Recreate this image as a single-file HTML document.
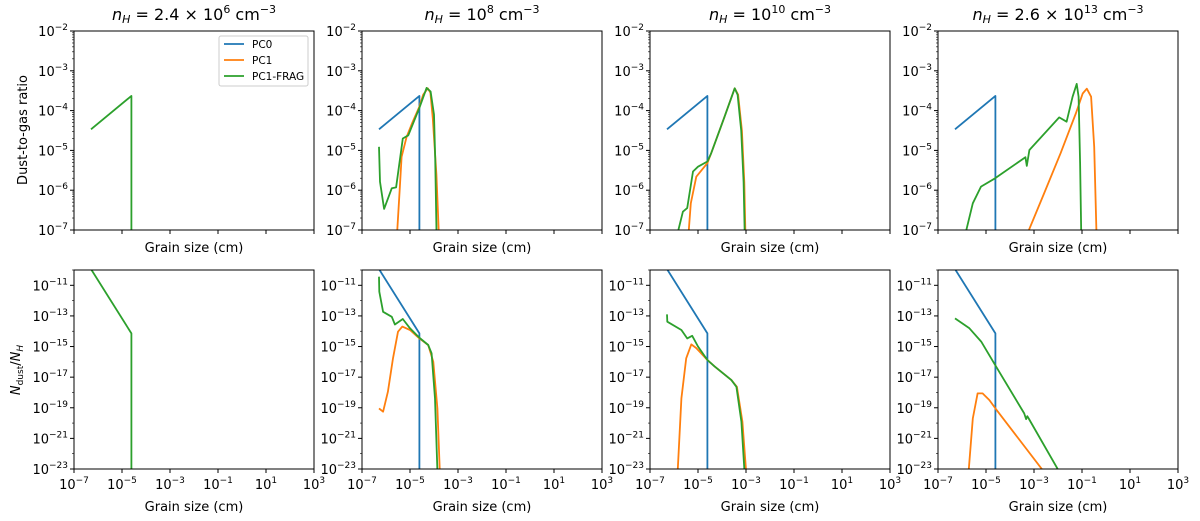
<!DOCTYPE html>
<html><head><meta charset="utf-8"><style>
body{margin:0;background:#fff;}
svg{display:block;font-family:"DejaVu Sans","Liberation Sans",sans-serif;}
</style></head><body>
<svg id="fig" width="1200" height="521" viewBox="0 0 1200 521" xmlns="http://www.w3.org/2000/svg"></svg>
<script>
const panelTitles = [["2.4 × 10","6"],["10","8"],["10","10"],["2.6 × 10","13"]];
const xTicks = [-7,-5,-3,-1,1,3];
const topTicks = [-2,-3,-4,-5,-6,-7];
const botTicks = [-11,-13,-15,-17,-19,-21,-23];
const pc0Top = [[-6.29,-4.47],[-4.61,-3.63],[-4.61,-8]];
const pc0Bot = [[-6.29,-9.94],[-4.61,-14.14],[-4.61,-24]];
// panel 2
const p2TopOr = [[-5.55,-7.2],[-5.42,-5.9],[-5.35,-5.16],[-5.14,-4.66],[-4.9,-4.3],[-4.61,-3.9],[-4.45,-3.6],[-4.26,-3.44],[-4.15,-3.55],[-4.05,-4.2],[-3.9,-5.6],[-3.79,-7.2]];
const p2TopGr = [[-6.29,-4.91],[-6.25,-5.79],[-6.08,-6.47],[-5.76,-5.95],[-5.58,-5.93],[-5.3,-4.7],[-5.07,-4.62],[-4.61,-3.93],[-4.31,-3.43],[-4.14,-3.52],[-4.0,-4.1],[-3.95,-5.2],[-3.89,-7.2]];
const p2BotGr = [[-6.29,-10.44],[-6.28,-11.42],[-6.12,-12.73],[-5.76,-13.06],[-5.63,-13.56],[-5.3,-13.2],[-5.0,-13.81],[-4.61,-14.42],[-4.24,-14.9],[-4.1,-15.45],[-3.96,-18.4],[-3.85,-23.5]];
const p2BotOr = [[-6.29,-19.04],[-6.12,-19.26],[-5.92,-17.95],[-5.71,-15.77],[-5.5,-14.03],[-5.32,-13.7],[-5.0,-13.92],[-4.61,-14.47],[-4.24,-14.9],[-4.03,-16.0],[-3.86,-19.04],[-3.75,-23.5]];
// panel 3
const p3TopGr = [[-5.9,-7.2],[-5.63,-6.54],[-5.45,-6.45],[-5.21,-5.53],[-5.0,-5.41],[-4.61,-5.28],[-4.45,-5.07],[-3.89,-4.15],[-3.47,-3.44],[-3.35,-3.6],[-3.2,-4.5],[-3.1,-5.8],[-3.05,-7.2]];
const p3TopOr = [[-5.41,-7.2],[-5.3,-6.33],[-5.07,-5.66],[-4.61,-5.32],[-4.45,-5.07],[-3.89,-4.15],[-3.47,-3.44],[-3.33,-3.6],[-3.17,-4.5],[-3.07,-5.8],[-3.02,-7.2]];
const p3BotGr = [[-6.29,-12.9],[-6.28,-13.38],[-5.69,-13.92],[-5.45,-14.47],[-5.24,-14.3],[-5.0,-15.0],[-4.61,-15.88],[-4.31,-16.3],[-3.61,-17.19],[-3.4,-17.63],[-3.19,-19.91],[-3.05,-23.5]];
const p3BotOr = [[-5.86,-23.5],[-5.69,-18.39],[-5.49,-15.77],[-5.28,-14.86],[-5.07,-15.1],[-4.61,-15.88],[-4.31,-16.3],[-3.61,-17.19],[-3.38,-17.63],[-3.15,-19.91],[-2.98,-23.5]];
// panel 4
const p4TopGr = [[-5.9,-7.2],[-5.55,-6.33],[-5.21,-5.91],[-4.62,-5.7],[-3.36,-5.17],[-3.3,-5.39],[-3.19,-4.99],[-1.95,-4.17],[-1.64,-4.28],[-1.39,-3.65],[-1.22,-3.33],[-1.14,-3.65],[-1.08,-5.32],[-1.03,-7.2]];
const p4TopOr = [[-3.35,-7.2],[-2.58,-6.08],[-1.89,-5.07],[-1.25,-4.06],[-0.97,-3.57],[-0.8,-3.45],[-0.62,-3.65],[-0.49,-4.91],[-0.39,-7.2]];
const p4BotGr = [[-6.29,-13.16],[-5.69,-13.81],[-5.2,-14.68],[-4.62,-16.2],[-3.41,-19.37],[-3.33,-19.74],[-3.28,-19.55],[-3.22,-19.7],[-1.83,-23.5]];
const p4BotOr = [[-5.74,-23.5],[-5.55,-19.7],[-5.35,-18.06],[-5.14,-18.06],[-4.86,-18.5],[-4.61,-19.04],[-2.43,-23.5]];
// panel 1
const p1TopGr = [[-6.29,-4.47],[-4.61,-3.63],[-4.61,-8]];
const p1BotGr = [[-6.29,-9.94],[-4.61,-14.14],[-4.61,-24]];

const BLUE="#1f77b4",ORANGE="#ff7f0e",GREEN="#2ca02c";
const lefts=[74,362,650,938], W=240;
const rows=[{top:31,bot:230,min:-7,max:-2},{top:270,bot:469,min:-23,max:-10}];
const svg=document.getElementById('fig');
const NS="http://www.w3.org/2000/svg";
function mk(tag,attrs,parent){const e=document.createElementNS(NS,tag);for(const k in attrs)e.setAttribute(k,attrs[k]);(parent||svg).appendChild(e);return e;}
function xs(l,v){return l+(v+7)/10*W;}
function ys(r,v){return r.bot-(v-r.min)/(r.max-r.min)*(r.bot-r.top);}

const series=[
 [[p1TopGr,GREEN,'pc1-frag-line']],[[pc0Top,BLUE,'pc0-line'],[p2TopOr,ORANGE,'pc1-line'],[p2TopGr,GREEN,'pc1-frag-line']],
 [[pc0Top,BLUE,'pc0-line'],[p3TopOr,ORANGE,'pc1-line'],[p3TopGr,GREEN,'pc1-frag-line']],
 [[pc0Top,BLUE,'pc0-line'],[p4TopOr,ORANGE,'pc1-line'],[p4TopGr,GREEN,'pc1-frag-line']]];
const seriesB=[
 [[p1BotGr,GREEN,'pc1-frag-line']],[[pc0Bot,BLUE,'pc0-line'],[p2BotOr,ORANGE,'pc1-line'],[p2BotGr,GREEN,'pc1-frag-line']],
 [[pc0Bot,BLUE,'pc0-line'],[p3BotOr,ORANGE,'pc1-line'],[p3BotGr,GREEN,'pc1-frag-line']],
 [[pc0Bot,BLUE,'pc0-line'],[p4BotOr,ORANGE,'pc1-line'],[p4BotGr,GREEN,'pc1-frag-line']]];

for(let p=0;p<4;p++){
 const L=lefts[p];
 const t=mk('text',{x:L+W/2,y:20,'text-anchor':'middle','font-size':'16'});
 
 
 t.innerHTML='<tspan font-style="italic">n</tspan><tspan font-style="italic" font-size="11" dy="3">H</tspan><tspan dy="-3"> = '+panelTitles[p][0]+'</tspan><tspan font-size="11" dy="-7">'+panelTitles[p][1]+'</tspan><tspan dy="7"> cm</tspan><tspan font-size="11" dy="-7">−3</tspan>';
 for(let r=0;r<2;r++){
  const R=rows[r];
  const g=mk('g',{});
  
  
  const cid='c'+p+r;
  const cp=mk('clipPath',{id:cid},g);mk('rect',{x:L,y:R.top,width:W,height:R.bot-R.top},cp);
  const data=(r==0?series:seriesB)[p];
  for(const [pts,col,nm] of data){
   const d=pts.map((q,i)=>(i?'L':'M')+xs(L,q[0]).toFixed(1)+','+ys(R,q[1]).toFixed(1)).join(' ');
   const path=mk('path',{d:d,fill:'none',stroke:col,'stroke-width':1.8,'stroke-linejoin':'round','clip-path':'url(#'+cid+')'},g);
   
   
  }
  mk('rect',{x:L,y:R.top,width:W,height:R.bot-R.top,fill:'none',stroke:'#000','stroke-width':1},g);
  for(const v of xTicks){const x=xs(L,v);mk('line',{x1:x,x2:x,y1:R.bot,y2:R.bot+4,stroke:'#000'},g);
   if(r==1){const tt=mk('text',{x:x,y:R.bot+20,'text-anchor':'middle','font-size':'13'},g);tt.innerHTML='10<tspan font-size="9" dy="-6">'+(v<0?'−'+(-v):v)+'</tspan>';
    
    }}
  const xl=mk('text',{x:L+W/2,y:R.bot+(r==0?22:42),'text-anchor':'middle','font-size':'13'},g);
  xl.textContent='Grain size (cm)';
  
  
  const ticks=r==0?topTicks:botTicks;
  for(const v of ticks){const y=ys(R,v);mk('line',{x1:L-4,x2:L,y1:y,y2:y,stroke:'#000'},g);
   const tt=mk('text',{x:L-6,y:y+5,'text-anchor':'end','font-size':'13'},g);tt.innerHTML='10<tspan font-size="9" dy="-6">−'+(-v)+'</tspan>';
   
   }
  if(r==0){for(let dcd=-7;dcd<-2;dcd++)for(let m=2;m<10;m++){const y=ys(R,dcd+Math.log10(m));mk('line',{x1:L-2,x2:L,y1:y,y2:y,stroke:'#000','stroke-width':0.6},g);}}
  else{for(let dcd=-22;dcd<=-10;dcd+=2){const y=ys(R,dcd);mk('line',{x1:L-2,x2:L,y1:y,y2:y,stroke:'#000','stroke-width':0.6},g);}}
 }
}
const yt1=mk('text',{x:0,y:0,transform:'translate(27,130) rotate(-90)','text-anchor':'middle','font-size':'13'});
yt1.textContent='Dust-to-gas ratio';


const yt2=mk('text',{x:0,y:0,transform:'translate(20,370) rotate(-90)','text-anchor':'middle','font-size':'13'});
yt2.innerHTML='<tspan font-style="italic">N</tspan><tspan font-size="9" dy="3">dust</tspan><tspan dy="-3">/</tspan><tspan font-style="italic">N</tspan><tspan font-size="9" font-style="italic" dy="3">H</tspan>';


const lg=mk('g',{});


mk('rect',{x:219,y:36,width:89,height:50,rx:2,fill:'#fff',stroke:'#ccc'},lg);
[['PC0',BLUE],['PC1',ORANGE],['PC1-FRAG',GREEN]].forEach((e,i)=>{const y=44+i*16;
 const ln=mk('line',{x1:224,x2:244,y1:y,y2:y,stroke:e[1],'stroke-width':1.8},lg);
 
 
 const tx=mk('text',{x:252,y:y+4,'font-size':'10.5'},lg);tx.textContent=e[0];
 
 });
</script>
</body></html>
